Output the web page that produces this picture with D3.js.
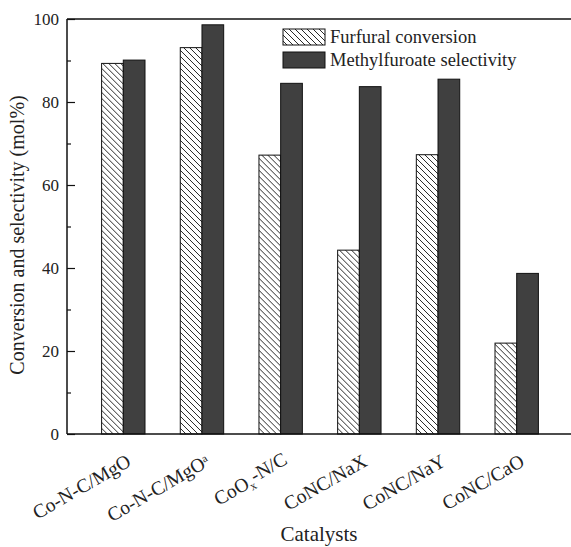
<!DOCTYPE html>
<html>
<head>
<meta charset="utf-8">
<script src="https://cdn.jsdelivr.net/npm/d3@7"></script>
<style>
  body { margin: 0; background: #fff; }
  text { font-family: "Liberation Serif", "Times New Roman", serif; fill: #222; }
</style>
</head>
<body>
<div id="chart"></div>
<script>
// data
const catalysts = ["Co-N-C/MgO", "Co-N-C/MgOa", "CoOx-N/C", "CoNC/NaX", "CoNC/NaY", "CoNC/CaO"];
const conversion = [89.3, 93.1, 67.2, 44.3, 67.3, 21.9];
const selectivity = [90.1, 98.6, 84.5, 83.7, 85.5, 38.7];
const yTicks = [0, 20, 40, 60, 80, 100];
const seriesNames = ["Furfural conversion", "Methylfuroate selectivity"];

const W = 571, H = 547;
const margin = { top: 19, right: 0, bottom: 113, left: 67 };

const svg = d3.select('#chart').append('svg')
    .attr('width', W)
    .attr('height', H);

const defs = svg.append('defs');
defs.append('pattern')
    .attr('id', 'hatch')
    .attr('patternUnits', 'userSpaceOnUse')
    .attr('width', 6).attr('height', 6)
    .call(p => p.append('rect').attr('width', 6).attr('height', 6).attr('fill', '#fff'))
    .append('path')
    .attr('d', 'M0,0L6,6M-1,5L1,7M5,-1L7,1')
    .attr('stroke', '#111')
    .attr('stroke-width', 0.9);

const yScale = d3.scaleLinear()
    .domain([0, 100])
    .range([H - margin.bottom, margin.top]);

const xScale = d3.scalePoint()
    .domain(catalysts)
    .range([123.3, 516.7]);

const sub = d3.scaleBand()
    .domain(["conv", "sel"])
    .range([-21.7, 21.7]);

// bars
const rows = catalysts.map((c, i) => ({ c, conv: conversion[i], sel: selectivity[i] }));
const groups = svg.append('g').selectAll('g')
    .data(rows)
    .join('g')
    .attr('transform', d => `translate(${xScale(d.c)},0)`);

groups.append('rect')
    .attr('x', sub('conv'))
    .attr('width', sub.bandwidth())
    .attr('y', d => yScale(d.conv))
    .attr('height', d => yScale(0) - yScale(d.conv))
    .attr('fill', 'url(#hatch)')
    .attr('stroke', '#111')
    .attr('stroke-width', 1);

groups.append('rect')
    .attr('x', sub('sel'))
    .attr('width', sub.bandwidth())
    .attr('y', d => yScale(d.sel))
    .attr('height', d => yScale(0) - yScale(d.sel))
    .attr('fill', '#404040')
    .attr('stroke', '#111')
    .attr('stroke-width', 1);

// y axis, ticks pointing inward
const yAxis = svg.append('g')
    .attr('transform', `translate(${margin.left},0)`)
    .call(d3.axisRight(yScale).tickValues(yTicks).tickSize(8).tickFormat(''));
yAxis.select('.domain').remove();
yAxis.selectAll('line').attr('stroke', '#111').attr('stroke-width', 1.2);

svg.append('g')
    .attr('transform', `translate(${margin.left},0)`)
    .call(d3.axisRight(yScale).tickValues(d3.range(10, 100, 20)).tickSize(4).tickFormat(''))
    .call(g => g.select('.domain').remove())
    .selectAll('line').attr('stroke', '#111').attr('stroke-width', 1.2);

svg.append('g').selectAll('text')
    .data(yTicks)
    .join('text')
    .attr('x', margin.left - 8)
    .attr('y', d => yScale(d))
    .attr('dy', '0.35em')
    .attr('text-anchor', 'end')
    .style('font-size', '17px')
    .text(d => d);

// frame lines
svg.append('line')
    .attr('x1', margin.left).attr('x2', margin.left)
    .attr('y1', yScale(100)).attr('y2', yScale(0))
    .attr('stroke', '#111').attr('stroke-width', 1.5);
svg.append('line')
    .attr('x1', margin.left).attr('x2', W)
    .attr('y1', yScale(0)).attr('y2', yScale(0))
    .attr('stroke', '#111').attr('stroke-width', 1.5);
svg.append('line')
    .attr('x1', margin.left).attr('x2', W)
    .attr('y1', yScale(100)).attr('y2', yScale(100))
    .attr('stroke', '#111').attr('stroke-width', 1.5);

// x labels, rotated
const xl = svg.append('g').selectAll('text')
    .data(catalysts)
    .join('text')
    .attr('text-anchor', 'end')
    .attr('transform', d => `translate(${xScale(d) + 9},${yScale(0) + 31}) rotate(-30)`)
    .style('font-size', '19.5px');

xl.each(function(d) {
    const t = d3.select(this);
    if (d === "Co-N-C/MgOa") {
        t.append('tspan').text("Co-N-C/MgO");
        t.append('tspan').attr('dy', '-0.5em').style('font-size', '11px').text("a");
    } else if (d === "CoOx-N/C") {
        t.append('tspan').text("CoO");
        t.append('tspan').attr('dy', '0.3em').style('font-size', '12px').text("x");
        t.append('tspan').attr('dy', '-0.3em').text("-N/C");
    } else {
        t.text(d);
    }
});

// axis titles
svg.append('text')
    .attr('transform', `translate(24,235) rotate(-90)`)
    .attr('text-anchor', 'middle')
    .style('font-size', '20px')
    .text('Conversion and selectivity (mol%)');

svg.append('text')
    .attr('x', 319)
    .attr('y', 541)
    .attr('text-anchor', 'middle')
    .style('font-size', '21px')
    .text('Catalysts');

// legend
const legend = svg.append('g').selectAll('g')
    .data(seriesNames)
    .join('g')
    .attr('transform', (d, i) => `translate(283,${29 + i * 23})`);
legend.append('rect')
    .attr('width', 42).attr('height', 16)
    .attr('fill', (d, i) => i === 0 ? 'url(#hatch)' : '#404040')
    .attr('stroke', '#111').attr('stroke-width', 1);
legend.append('text')
    .attr('x', 47).attr('y', 8).attr('dy', '0.35em')
    .style('font-size', '18.5px')
    .text(d => d);
</script>
</body>
</html>
